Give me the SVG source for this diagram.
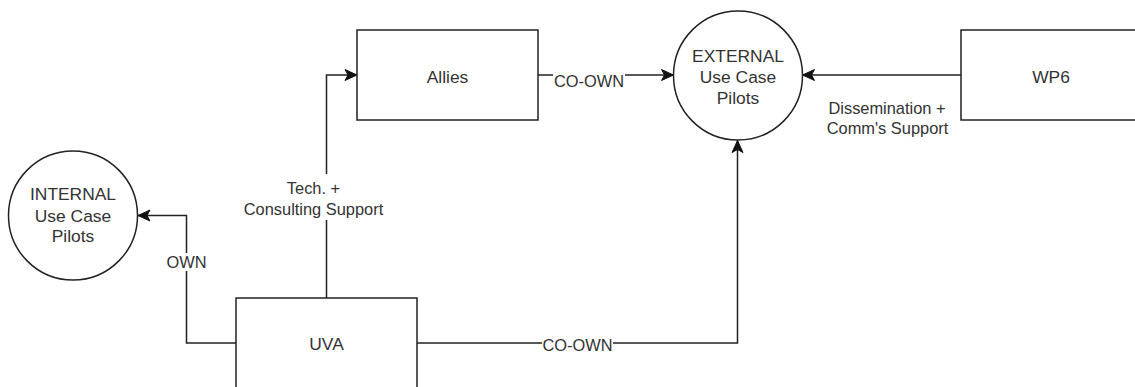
<svg xmlns="http://www.w3.org/2000/svg" width="1135" height="387" viewBox="0 0 1135 387">
<style>
.node{fill:#fff;stroke:#222;stroke-width:1.5}
.edge{fill:none;stroke:#222;stroke-width:1.5}
.nt{font-family:"Liberation Sans",Arial,Helvetica,sans-serif;font-size:17.4px;fill:#333;text-anchor:middle}
.lt{font-family:"Liberation Sans",Arial,Helvetica,sans-serif;font-size:16.4px;fill:#333;text-anchor:middle}
.bg{fill:#fff;stroke:none}
</style>
<defs>
<marker id="arr" markerUnits="userSpaceOnUse" markerWidth="14" markerHeight="14" viewBox="0 0 14 14" refX="13" refY="7" orient="auto">
<path d="M1,1.5 L13,7 L1,12.5 L4,7 Z" fill="#111" stroke="#111" stroke-width="1"/>
</marker>
</defs>
<rect width="1135" height="387" fill="#fff"/>
<g id="connectors">
<path class="edge" d="M236,343 H186.5 V215.5 H138" marker-end="url(#arr)"/>
<path class="edge" d="M326.5,298 V75 H357" marker-end="url(#arr)"/>
<path class="edge" d="M538,75 H673.5" marker-end="url(#arr)"/>
<path class="edge" d="M961,75 H802.5" marker-end="url(#arr)"/>
<path class="edge" d="M417,343 H737.5 V140.5" marker-end="url(#arr)"/>
<rect class="bg" x="170" y="253" width="34" height="18"/>
<text class="lt" x="186.5" y="268">OWN</text>
<rect class="bg" x="242" y="174" width="144" height="46"/>
<text class="lt" x="313.5" y="194">Tech. +</text>
<text class="lt" x="313.5" y="215">Consulting Support</text>
<rect class="bg" x="553" y="72" width="72" height="18"/>
<text class="lt" x="589" y="87">CO-OWN</text>
<rect class="bg" x="542" y="336" width="71" height="18"/>
<text class="lt" x="577.5" y="350.5">CO-OWN</text>
<text class="lt" x="887" y="113.7">Dissemination +</text>
<text class="lt" x="887.5" y="133.7">Comm's Support</text>
</g>
<g id="internal">
<circle class="node" cx="73" cy="215.5" r="64.5"/>
<text class="nt" x="73" y="200">INTERNAL</text>
<text class="nt" x="73" y="221.5">Use Case</text>
<text class="nt" x="73" y="242">Pilots</text>
</g>
<g id="external">
<circle class="node" cx="738" cy="75.5" r="64.5"/>
<text class="nt" x="738" y="62">EXTERNAL</text>
<text class="nt" x="738" y="83">Use Case</text>
<text class="nt" x="738" y="104">Pilots</text>
</g>
<g id="allies">
<rect class="node" x="357" y="30" width="181" height="90"/>
<text class="nt" x="447.5" y="82.5">Allies</text>
</g>
<g id="wp6">
<rect class="node" x="961" y="30" width="181" height="90"/>
<text class="nt" x="1051" y="82.5">WP6</text>
</g>
<g id="uva">
<rect class="node" x="236" y="298" width="181" height="90"/>
<text class="nt" x="326.5" y="350">UVA</text>
</g>
</svg>
